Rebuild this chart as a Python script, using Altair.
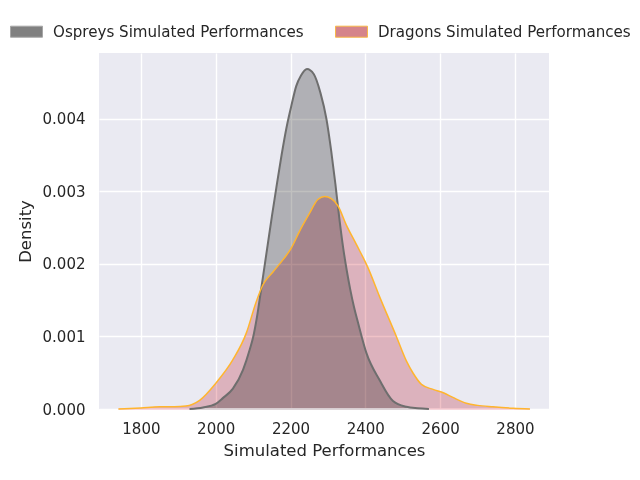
import altair as alt
import pandas as pd

# ---- data ----
osp_name = "Ospreys Simulated Performances"
dra_name = "Dragons Simulated Performances"

osp_x = [1930, 1966, 2000, 2019, 2046, 2073, 2091, 2100, 2110, 2120, 2130, 2140,
         2150, 2162, 2176, 2190, 2203, 2215, 2228, 2244, 2262, 2280, 2296, 2309,
         2320, 2330, 2340, 2350, 2360, 2370, 2380, 2403, 2438, 2474, 2510, 2540,
         2570]
osp_y = [0.0, 0.00002, 0.00007, 0.00015, 0.00028, 0.00054, 0.00082, 0.00099,
         0.00126, 0.0016, 0.00195, 0.0023, 0.00265, 0.00305, 0.0035, 0.0039,
         0.0042, 0.00445, 0.0046, 0.00469, 0.00462, 0.00436, 0.0040, 0.00355,
         0.0031, 0.00265, 0.00225, 0.00192, 0.00164, 0.0014, 0.0012, 0.00077,
         0.0004, 0.00011, 0.00003, 0.00001, 0.0]

dra_x = [1740, 1800, 1850, 1890, 1920, 1957, 2001, 2046, 2082, 2107, 2126, 2153,
         2180, 2202, 2224, 2251, 2273, 2291, 2309, 2327, 2349, 2376, 2407, 2438,
         2483, 2510, 2527, 2550, 2581, 2610, 2634, 2670, 2700, 2741, 2795, 2840]
dra_y = [0.0, 0.000015, 0.00003, 0.00003, 0.00004, 0.00012, 0.00036, 0.00068,
         0.00105, 0.00146, 0.00171, 0.00189, 0.00206, 0.00222, 0.00245, 0.0027,
         0.00289, 0.00293, 0.0029, 0.0028, 0.00254, 0.00227, 0.00195, 0.00155,
         0.001, 0.00066, 0.0005, 0.00034, 0.00027, 0.00022, 0.00016, 0.00008,
         0.00005, 0.00003, 0.00001, 0.0]

x_ticks = [1800, 2000, 2200, 2400, 2600, 2800]
y_ticks = [0.0, 0.001, 0.002, 0.003, 0.004]
x_domain = [1688, 2891]
y_domain = [0.0, 0.00491]

osp_df = pd.DataFrame({"x": osp_x, "y": osp_y})
dra_df = pd.DataFrame({"x": dra_x, "y": dra_y})
legend_df = pd.DataFrame({"series": [osp_name, dra_name], "x": [1000, 1000], "y": [0.001, 0.001]})

FONT = "DejaVu Sans"
TXT = "#262626"

xs = alt.Scale(domain=x_domain, nice=False, zero=False)
ys = alt.Scale(domain=y_domain, nice=False)

x_axis = alt.Axis(values=x_ticks, title="Simulated Performances", labelFontSize=15,
                  titleFontSize=16.5, labelPadding=12, titlePadding=6, format="d")
y_axis = alt.Axis(values=y_ticks, title="Density", format=".3f", labelFontSize=15,
                  titleFontSize=16.5, labelPadding=14, titlePadding=9)

X = alt.X("x:Q", scale=xs, axis=x_axis)
Y = alt.Y("y:Q", scale=ys, axis=y_axis)

osp_area = alt.Chart(osp_df).mark_area(color="#C0C0BF", blend="multiply",
                                       interpolate="monotone").encode(x=X, y=Y)
dra_area = alt.Chart(dra_df).mark_area(color="#F0C2C7", blend="multiply",
                                       interpolate="monotone").encode(x=X, y=Y)

dra_base = alt.Chart(dra_df).mark_rule(color="#F4C9CF", strokeWidth=1.5).encode(
    x="min(x):Q", x2="max(x):Q", y=alt.datum(0))
osp_base = alt.Chart(osp_df).mark_rule(color="#D4D4D7", strokeWidth=1.5).encode(
    x="min(x):Q", x2="max(x):Q", y=alt.datum(0))

osp_line = alt.Chart(osp_df).mark_line(color="#6E6E6E", strokeWidth=2,
                                       interpolate="monotone").encode(x=X, y=Y)
dra_line = alt.Chart(dra_df).mark_line(color="#FFB52E", strokeWidth=1.5,
                                       interpolate="monotone").encode(x=X, y=Y)

leg = alt.Legend(title=None, orient="none", legendX=-89, legendY=-38,
                 direction="horizontal",
                 symbolType="M-1,-0.344L1,-0.344L1,0.344L-1,0.344Z",
                 symbolSize=1024, symbolStrokeWidth=1, symbolOpacity=1,
                 labelFontSize=15.1, labelColor=TXT, labelFont=FONT, labelLimit=0,
                 labelOffset=10, columnPadding=29)

legend_layer = alt.Chart(legend_df).mark_point(clip=True, filled=True, size=100).encode(
    x=alt.X("x:Q", scale=xs),
    y=alt.Y("y:Q", scale=ys),
    fill=alt.Fill("series:N", sort=[osp_name, dra_name],
                  scale=alt.Scale(domain=[osp_name, dra_name], range=["#808080", "#D5848B"]),
                  legend=leg),
    stroke=alt.Stroke("series:N", sort=[osp_name, dra_name],
                      scale=alt.Scale(domain=[osp_name, dra_name], range=["#A6A6A6", "#F7B84A"]),
                      legend=leg),
)

chart = alt.layer(
    osp_area, dra_area, dra_base, osp_base, osp_line, dra_line, legend_layer
).properties(
    width=450, height=356,
    padding={"left": 91, "top": 45, "right": 83, "bottom": 55},
    autosize=alt.AutoSizeParams(type="none"),
    background="white",
).configure_view(
    fill="#EAEAF2", strokeWidth=0
).configure_axis(
    grid=True, gridColor="white", gridWidth=1.4, gridOpacity=1,
    domain=False, ticks=False, tickSize=0,
    labelColor=TXT, titleColor=TXT, labelFont=FONT, titleFont=FONT,
    titleFontWeight="normal",
).configure_legend(
    labelFont=FONT
)

chart.save("out.html", embed_options={"renderer": "svg", "actions": False})
